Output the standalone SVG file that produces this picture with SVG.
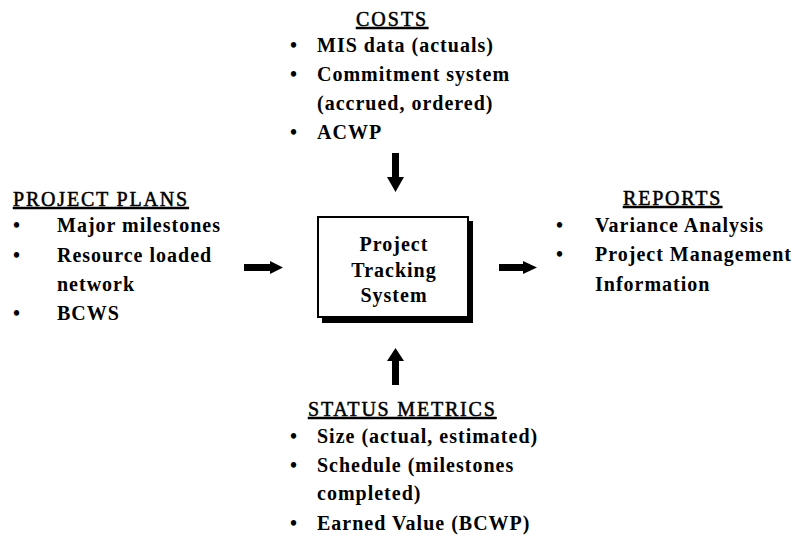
<svg xmlns="http://www.w3.org/2000/svg" width="800" height="540" viewBox="0 0 800 540">
<style>
text{font-family:"Liberation Serif","Times New Roman",serif;font-size:20px;fill:#000}
.h{font-weight:normal;letter-spacing:1.8px;text-decoration:underline;stroke:#000;stroke-width:0.5px}
.b{font-weight:bold;letter-spacing:1px}
.arrow{fill:#000}
</style>
<rect width="800" height="540" fill="#fff"/>
<g id="costs">
<text class="h" x="356" y="26" style="letter-spacing:2px">COSTS</text>
<text class="b" x="290" y="52">•</text><text class="b" x="317" y="52">MIS data (actuals)</text>
<text class="b" x="290" y="81">•</text><text class="b" x="317" y="81">Commitment system</text>
<text class="b" x="317" y="110">(accrued, ordered)</text>
<text class="b" x="290" y="139">•</text><text class="b" x="317" y="139">ACWP</text>
</g>
<g id="project-plans">
<text class="h" x="13" y="206">PROJECT PLANS</text>
<text class="b" x="13" y="232">•</text><text class="b" x="57" y="232">Major milestones</text>
<text class="b" x="13" y="262">•</text><text class="b" x="57" y="262">Resource loaded</text>
<text class="b" x="57" y="291">network</text>
<text class="b" x="13" y="320">•</text><text class="b" x="57" y="320">BCWS</text>
</g>
<g id="tracking-system">
<rect x="322" y="221" width="151" height="102" fill="#000"/>
<rect x="318" y="217" width="150" height="100" fill="#fff" stroke="#000" stroke-width="2"/>
<text class="b" x="394" y="251" text-anchor="middle">Project</text>
<text class="b" x="394" y="277" text-anchor="middle">Tracking</text>
<text class="b" x="394" y="302" text-anchor="middle">System</text>
</g>
<g id="reports">
<text class="h" x="623" y="205">REPORTS</text>
<text class="b" x="556" y="232">•</text><text class="b" x="595" y="232">Variance Analysis</text>
<text class="b" x="556" y="261">•</text><text class="b" x="595" y="261">Project Management</text>
<text class="b" x="595" y="291">Information</text>
</g>
<g id="status-metrics">
<text class="h" x="308" y="416">STATUS METRICS</text>
<text class="b" x="290" y="443">•</text><text class="b" x="317" y="443">Size (actual, estimated)</text>
<text class="b" x="290" y="472">•</text><text class="b" x="317" y="472">Schedule (milestones</text>
<text class="b" x="317" y="500">completed)</text>
<text class="b" x="290" y="530">•</text><text class="b" x="317" y="530">Earned Value (BCWP)</text>
</g>
<g id="connectors">
<polygon class="arrow" points="392,153 399,153 399,177 404,177 395.5,192 387,177 392,177"/>
<polygon class="arrow" points="392,385 399,385 399,361 404,361 395.5,348 387,361 392,361"/>
<polygon class="arrow" points="244,264 270,264 270,261 283,267.5 270,274 270,271 244,271"/>
<polygon class="arrow" points="499,264 523,264 523,261 537,267.5 523,274 523,271 499,271"/>
</g>
</svg>
